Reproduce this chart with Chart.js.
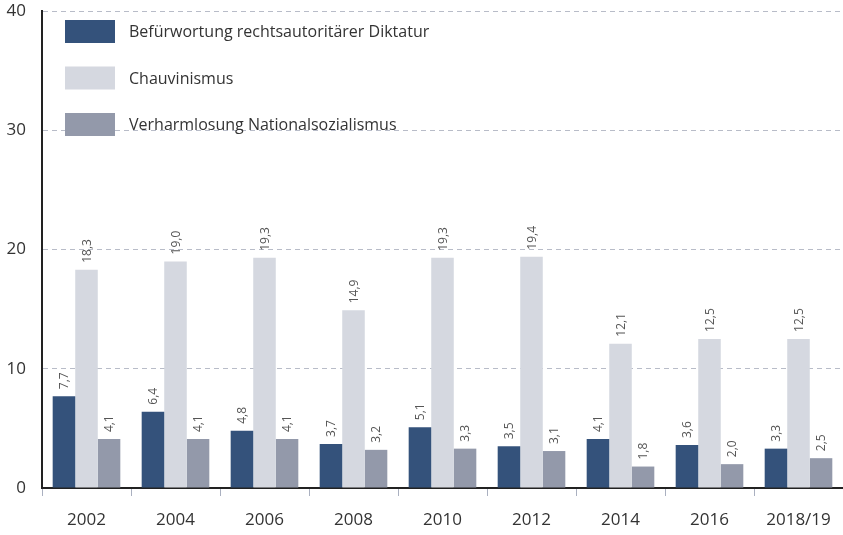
<!DOCTYPE html>
<html><head><meta charset="utf-8">
<script src="https://cdn.jsdelivr.net/npm/chart.js@4"></script>
<style>html,body{margin:0;padding:0;background:#fff}#wrap{width:843px;height:535px}</style>
</head><body><div id="wrap"><canvas id="c" width="843" height="535"></canvas></div>
<script>
const categories = ["2002","2004","2006","2008","2010","2012","2014","2016","2018/19"];
const diktatur = [7.7,6.4,4.8,3.7,5.1,3.5,4.1,3.6,3.3];
const chauvinismus = [18.3,19.0,19.3,14.9,19.3,19.4,12.1,12.5,12.5];
const verharmlosung = [4.1,4.1,4.1,3.2,3.3,3.1,1.8,2.0,2.5];
const seriesNames = ["Befürwortung rechtsautoritärer Diktatur","Chauvinismus","Verharmlosung Nationalsozialismus"];
const yTicks = [0,10,20,30,40];
const colors = ["#34527b","#d5d8e0","#9399aa"];
const FONT = "'Open Sans', sans-serif";

const labelPlugin = {
  id: 'vals',
  afterDatasetsDraw(chart) {
    const ctx = chart.ctx;
    ctx.save();
    ctx.font = "12px " + FONT;
    ctx.fillStyle = "#555";
    ctx.textAlign = "left";
    ctx.textBaseline = "middle";
    chart.data.datasets.forEach((ds, di) => {
      const meta = chart.getDatasetMeta(di);
      meta.data.forEach((el, i) => {
        const txt = ds.data[i].toFixed(1).replace('.', ',');
        ctx.save();
        ctx.translate(el.x + 1, el.y - 7);
        ctx.rotate(-Math.PI / 2);
        ctx.fillText(txt, 0, 0);
        ctx.restore();
      });
    });
    ctx.restore();
  }
};

const legendPlugin = {
  id: 'leg',
  afterDraw(chart) {
    const ctx = chart.ctx;
    ctx.save();
    ctx.font = "16px " + FONT;
    ctx.textAlign = "left";
    ctx.textBaseline = "middle";
    chart.data.datasets.forEach((ds, i) => {
      const y = 20 + i * 46.5;
      ctx.fillStyle = ds.backgroundColor;
      ctx.fillRect(65, y, 50, 23);
      ctx.fillStyle = "#333";
      ctx.fillText(ds.label, 129, y + 12.5);
    });
    ctx.restore();
  }
};

new Chart(document.getElementById('c'), {
  type: 'bar',
  data: {
    labels: categories,
    datasets: [
      {label: seriesNames[0], data: diktatur, backgroundColor: colors[0]},
      {label: seriesNames[1], data: chauvinismus, backgroundColor: colors[1]},
      {label: seriesNames[2], data: verharmlosung, backgroundColor: colors[2]}
    ]
  },
  options: {
    responsive: false,
    animation: false,
    devicePixelRatio: 1,
    layout: {padding: {top: 11, right: 0, bottom: 0, left: 0}},
    datasets: {bar: {categoryPercentage: 0.76, barPercentage: 1.0}},
    plugins: {legend: {display: false}, tooltip: {enabled: false}},
    scales: {
      x: {
        afterFit(s) { s.height = 47; s.paddingLeft = 0; s.paddingRight = 0; },
        grid: {display: true, drawOnChartArea: false, drawTicks: true, tickLength: 8, color: "#aab0c0", offset: true},
        border: {display: true, color: "#222", width: 2},
        ticks: {color: "#333", font: {family: FONT, size: 17}, padding: 14}
      },
      y: {
        min: 0, max: 40,
        afterFit(s) { s.width = 42; s.paddingTop = 0; s.paddingBottom = 0; },
        afterBuildTicks(s) { s.ticks = yTicks.map(v => ({value: v})); },
        grid: {color: "#b8bcc8", drawTicks: false, lineWidth: 1},
        border: {display: true, color: "#222", width: 2, dash: [5, 4]},
        ticks: {color: "#333", font: {family: FONT, size: 17}, padding: 16}
      }
    }
  },
  plugins: [labelPlugin, legendPlugin]
});
</script></body></html>
